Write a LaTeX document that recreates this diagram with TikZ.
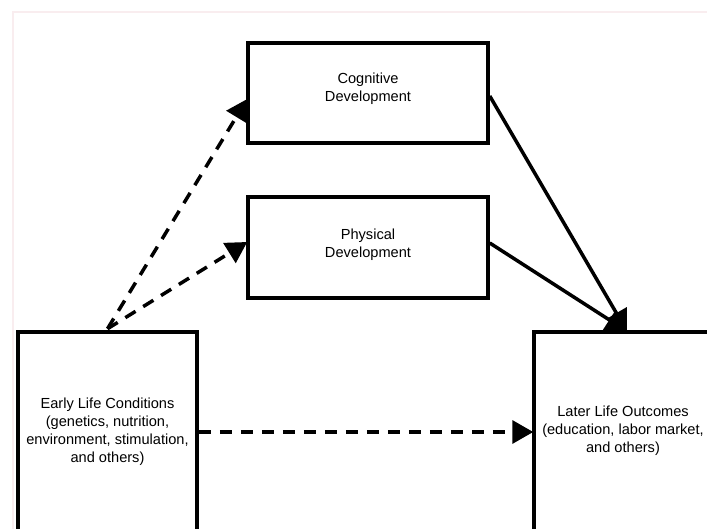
\documentclass[tikz,border=0pt]{standalone}
\usepackage{fontspec}
\setmainfont{Liberation Sans}
\usetikzlibrary{arrows.meta,calc}
\definecolor{framepink}{RGB}{249,237,239}
\tikzset{
  box/.style={draw=black, line width=3.5pt, rectangle, inner sep=0pt},
  txt/.style={align=center, font=\fontsize{14.6}{18}\selectfont, inner sep=0pt},
  link/.style={line width=3.5pt, -{Triangle[length=21pt,width=23pt]}},
  dlink/.style={link, dash pattern=on 12pt off 9pt}
}
\begin{document}
\begin{tikzpicture}[x=1pt,y=-1pt]
\useasboundingbox (0,0) rectangle (707,529);
\begin{scope}
\clip (0,0) rectangle (707,529);
\draw[framepink, line width=2pt] (12.5,12) rectangle (740,560);
\node[box, minimum width=240pt, minimum height=100pt] (cog) at (368,93) {};
\node[box, minimum width=240pt, minimum height=101pt] (phy) at (368,247.5) {};
\node[box, minimum width=179pt, minimum height=200pt] (early) at (107.5,432) {};
\node[box, minimum width=178pt, minimum height=200pt] (later) at (623,432) {};
\node[txt] (cogt) at (368,89) {Cognitive\\Development};
\node[txt] (phyt) at (368,245) {Physical\\Development};
\node[txt] (earlyt) at (107.5,432) {Early Life Conditions\\(genetics, nutrition,\\environment, stimulation,\\and others)};
\node[txt] (latert) at (623,431) {Later Life Outcomes\\(education, labor market,\\and others)};
\coordinate (s1) at ($(early.north)+(0,-1.5)$);
\draw[dlink] (s1) -- ($(cog.west)+(1,6)$);
\draw[dlink] (s1) -- ($(phy.west)+(1,-5.5)$);
\draw[link] ($(cog.east)+(0,3)$) -- ($(later.north)+(4,1)$);
\draw[link] ($(phy.east)+(0,-4.5)$) -- ($(later.north)+(4,1)$);
\draw[dlink] (early.east) -- ($(later.west)+(1,0)$);
\end{scope}
\end{tikzpicture}
\end{document}
